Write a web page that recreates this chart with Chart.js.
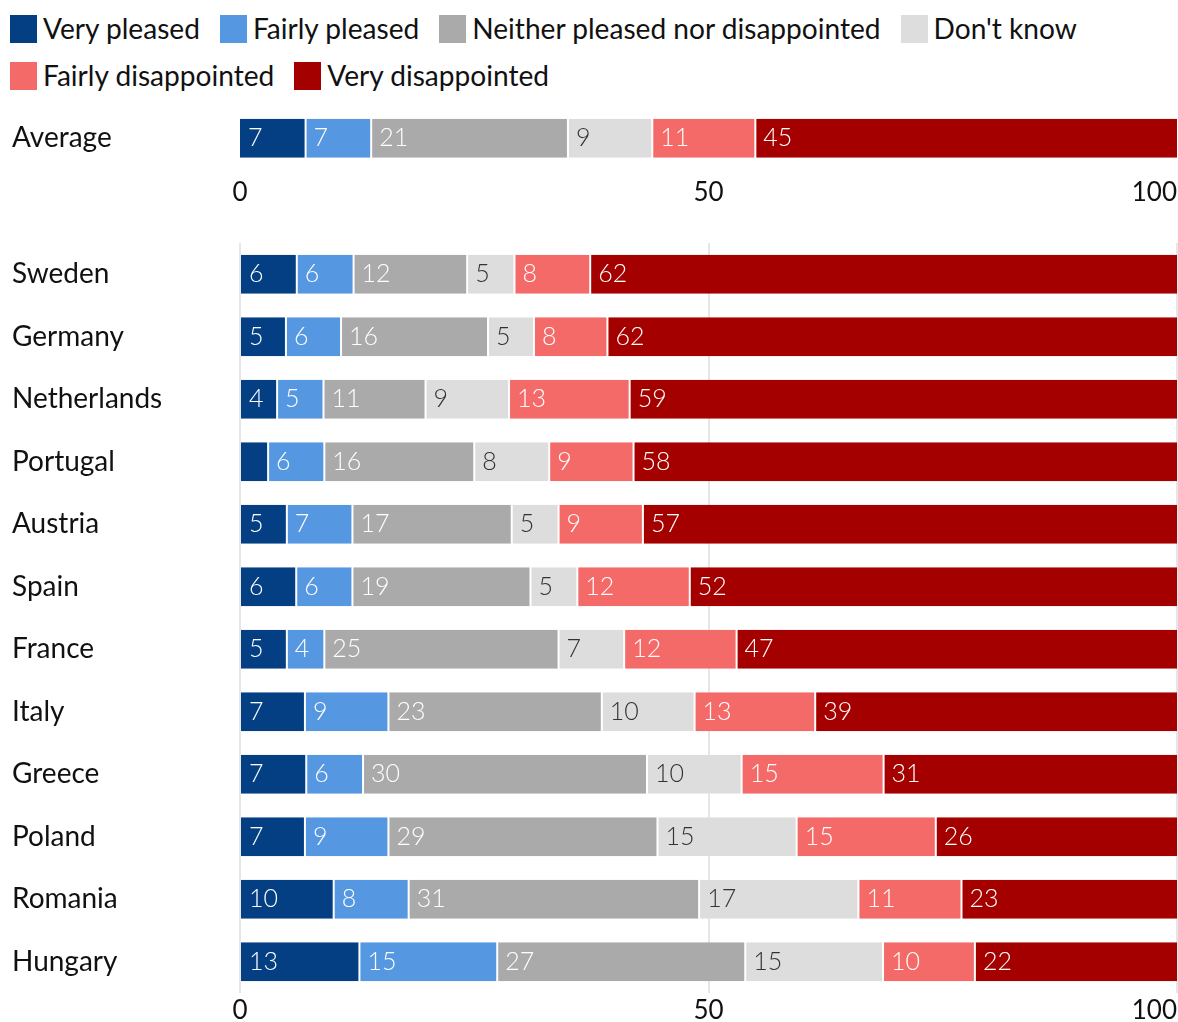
<!DOCTYPE html>
<html>
<head>
<meta charset="utf-8">
<script src="https://cdn.jsdelivr.net/npm/chart.js@4"></script>
<style>
    body { margin: 0; width: 1178px; height: 1022px; background: #fff; overflow: hidden; position: relative; font-family: Lato, sans-serif; color: #111; }
    #legend { position: absolute; top: 5px; left: 10px; width: 1160px; display: flex; flex-wrap: wrap; }
    .item { display: flex; align-items: center; height: 47px; margin-right: 20px; font-size: 28.1px; line-height: 1; }
    .swatch { width: 27px; height: 28px; margin-right: 6px; }
    #avgChart { position: absolute; top: 100px; left: 0; }
    #countryChart { position: absolute; top: 233px; left: 0; }
</style>
</head>
<body>
<div id="legend"></div>
<canvas id="avgChart" width="1178" height="110"></canvas>
<canvas id="countryChart" width="1178" height="789"></canvas>
<script>
// Series names and colours
const seriesNames = ['Very pleased', 'Fairly pleased', 'Neither pleased nor disappointed', "Don't know", 'Fairly disappointed', 'Very disappointed'];
const seriesColors = ['#033f82', '#5597e0', '#aaaaaa', '#dddddd', '#f36a68', '#a50000'];
const labelColors = ['#fff', '#fff', '#fff', '#333', '#fff', '#fff'];

// Average row, one value per series
const averageLabel = ['Average'];
const averageValues = [7, 7, 21, 9, 11, 45];

// Countries, one array per series
const countries = ['Sweden', 'Germany', 'Netherlands', 'Portugal', 'Austria', 'Spain', 'France', 'Italy', 'Greece', 'Poland', 'Romania', 'Hungary'];
const veryPleased = [6, 5, 4, 3, 5, 6, 5, 7, 7, 7, 10, 13];
const fairlyPleased = [6, 6, 5, 6, 7, 6, 4, 9, 6, 9, 8, 15];
const neither = [12, 16, 11, 16, 17, 19, 25, 23, 30, 29, 31, 27];
const dontKnow = [5, 5, 9, 8, 5, 5, 7, 10, 10, 15, 17, 15];
const fairlyDisappointed = [8, 8, 13, 9, 9, 12, 12, 13, 15, 15, 11, 10];
const veryDisappointed = [62, 62, 59, 58, 57, 52, 47, 39, 31, 26, 23, 22];

const xTicks = [0, 50, 100];

// legend
const legendEl = document.getElementById('legend');
seriesNames.forEach((name, i) => {
    const item = document.createElement('div');
    item.className = 'item';
    const sw = document.createElement('span');
    sw.className = 'swatch';
    sw.style.background = seriesColors[i];
    item.appendChild(sw);
    item.appendChild(document.createTextNode(name));
    legendEl.appendChild(item);
});

// value labels drawn at the left of each segment
const barLabels = {
    id: 'barLabels',
    afterDatasetsDraw(chart) {
        const ctx = chart.ctx;
        ctx.save();
        ctx.font = '300 25px Lato';
        ctx.textBaseline = 'middle';
        ctx.textAlign = 'left';
        chart.data.datasets.forEach((ds, i) => {
            chart.getDatasetMeta(i).data.forEach((bar, j) => {
                const v = ds.raw[j];
                if (v < 4) return; // too narrow (Portugal)
                ctx.fillStyle = labelColors[i];
                ctx.fillText(String(v), Math.min(bar.x, bar.base) + 8, bar.y);
            });
        });
        ctx.restore();
    }
};

// bars are drawn as shares of the row total so each row fills 0-100
function makeDatasets(seriesRows) {
    const n = seriesRows[0].length;
    const totals = [];
    for (let j = 0; j < n; j++) {
        totals.push(seriesRows.reduce((s, row) => s + row[j], 0));
    }
    return seriesRows.map((row, i) => ({
        label: seriesNames[i],
        raw: row,
        data: row.map((v, j) => v / totals[j] * 100),
        backgroundColor: seriesColors[i],
        borderColor: '#fff',
        borderWidth: { left: i > 0 ? 1 : 0, right: i < 5 ? 1 : 0, top: 0, bottom: 0 },
        borderSkipped: false,
        categoryPercentage: 1,
        barPercentage: 0.624
    }));
}

function makeOptions(opts) {
    return {
        indexAxis: 'y',
        responsive: false,
        animation: false,
        layout: { padding: { left: 12, right: 1, top: opts.top, bottom: 0 } },
        plugins: { legend: { display: false }, tooltip: { enabled: false } },
        scales: {
            x: {
                stacked: true,
                min: 0,
                max: 100,
                afterBuildTicks: s => { s.ticks = xTicks.map(v => ({ value: v })); },
                afterFit: s => { s.height = opts.axisHeight; s.paddingLeft = 0; s.paddingRight = 0; },
                grid: { display: opts.grid, color: '#e6e6e6', lineWidth: 2, drawTicks: false },
                border: { display: false },
                ticks: {
                    padding: opts.tickPad,
                    color: '#111',
                    font: { family: 'Lato', size: 26 },
                    maxRotation: 0,
                    autoSkip: false,
                    // last label sits left of its tick, as in the original
                    callback: v => v === 100 ? '100\u2007\u2007\u2007' : String(v)
                }
            },
            y: {
                stacked: true,
                grid: { display: false },
                border: { display: false },
                afterFit: s => { s.width = 228; s.paddingTop = 0; s.paddingBottom = 0; },
                ticks: { crossAlign: 'far', padding: 0, color: '#111', font: { family: 'Lato', size: 28 } }
            }
        }
    };
}

new Chart(document.getElementById('avgChart'), {
    type: 'bar',
    data: {
        labels: averageLabel,
        datasets: makeDatasets(averageValues.map(v => [v]))
    },
    options: makeOptions({ top: 7, axisHeight: 40.5, tickPad: 7.5, grid: false }),
    plugins: [barLabels]
});

new Chart(document.getElementById('countryChart'), {
    type: 'bar',
    data: {
        labels: countries,
        datasets: makeDatasets([veryPleased, fairlyPleased, neither, dontKnow, fairlyDisappointed, veryDisappointed])
    },
    options: makeOptions({ top: 10, axisHeight: 29, tickPad: 2.5, grid: true }),
    plugins: [barLabels]
});
</script>
</body>
</html>
